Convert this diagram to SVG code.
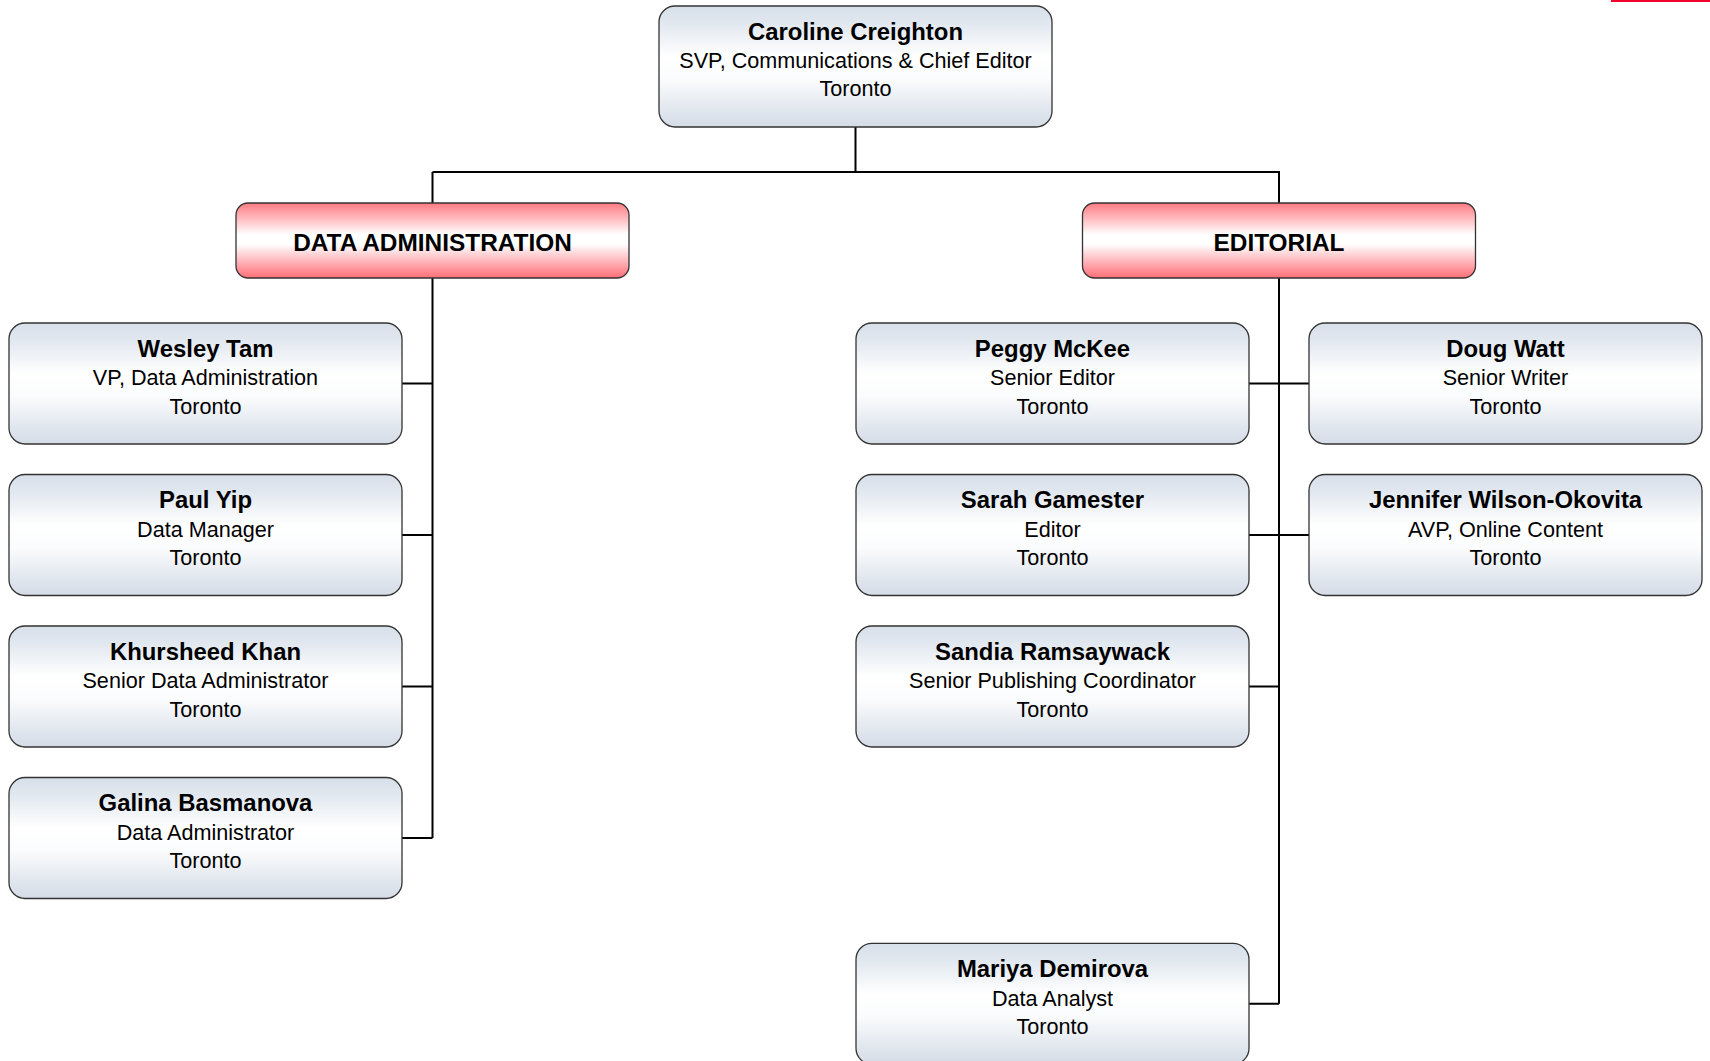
<svg xmlns="http://www.w3.org/2000/svg" width="1710" height="1061" viewBox="0 0 1710 1061">
<style>
.box{stroke:#333;stroke-width:1.3;fill:url(#gBlue)}
.dept{stroke:#333;stroke-width:1.3;fill:url(#gRed)}
.conn{stroke:#000;stroke-width:2;fill:none}
text{font-family:"Liberation Sans",Arial,sans-serif;fill:#000;text-anchor:middle}
.n{font-weight:bold;font-size:23.9px}
.d{font-weight:bold;font-size:24.4px}
.t{font-size:21.6px}
</style>
<defs>
<linearGradient id="gBlue" x1="0" y1="0" x2="0" y2="1">
<stop offset="0" stop-color="#d7dfe9"/>
<stop offset="0.12" stop-color="#dfe6ee"/>
<stop offset="0.42" stop-color="#ffffff"/>
<stop offset="0.6" stop-color="#fbfcfd"/>
<stop offset="0.88" stop-color="#dfe5ed"/>
<stop offset="1" stop-color="#d5dce6"/>
</linearGradient>
<linearGradient id="gRed" x1="0" y1="0" x2="0" y2="1">
<stop offset="0" stop-color="#ff7a82"/>
<stop offset="0.42" stop-color="#ffffff"/>
<stop offset="0.55" stop-color="#ffffff"/>
<stop offset="1" stop-color="#ff6e77"/>
</linearGradient>
</defs>
<rect width="1710" height="1061" fill="#fff"/>
<rect x="1611" y="0" width="99" height="2" fill="#f3002b"/>
<g id="connectors">
<path class="conn" d="M855.5 127V172M432.5 172H1279V203M432.5 172V203"/>
<path class="conn" d="M432.5 278V838M402 383.5H432.5M402 535H432.5M402 686.5H432.5M402 838H432.5"/>
<path class="conn" d="M1279 278V1003.8M1249 383.5H1309M1249 535H1309M1249 686.5H1279M1249 1003.8H1279"/>
</g>
<g id="caroline"><rect class="box" x="659" y="6" width="393" height="121" rx="16"/>
<text class="n" x="855.5" y="39.5">Caroline Creighton</text>
<text class="t" x="855.5" y="68">SVP, Communications &amp; Chief Editor</text>
<text class="t" x="855.5" y="96.3">Toronto</text></g>
<g id="dataadmin"><rect class="dept" x="236" y="203" width="393" height="75" rx="12"/>
<text class="d" x="432.5" y="250.7">DATA ADMINISTRATION</text></g>
<g id="editorial"><rect class="dept" x="1082.5" y="203" width="393" height="75" rx="12"/>
<text class="d" x="1279" y="250.7">EDITORIAL</text></g>
<g id="wesley"><rect class="box" x="9" y="323" width="393" height="121" rx="16"/>
<text class="n" x="205.5" y="356.8">Wesley Tam</text>
<text class="t" x="205.5" y="385.3">VP, Data Administration</text>
<text class="t" x="205.5" y="413.6">Toronto</text></g>
<g id="paul"><rect class="box" x="9" y="474.5" width="393" height="121" rx="16"/>
<text class="n" x="205.5" y="508.3">Paul Yip</text>
<text class="t" x="205.5" y="536.8">Data Manager</text>
<text class="t" x="205.5" y="565.1">Toronto</text></g>
<g id="khursheed"><rect class="box" x="9" y="626" width="393" height="121" rx="16"/>
<text class="n" x="205.5" y="659.8">Khursheed Khan</text>
<text class="t" x="205.5" y="688.3">Senior Data Administrator</text>
<text class="t" x="205.5" y="716.6">Toronto</text></g>
<g id="galina"><rect class="box" x="9" y="777.5" width="393" height="121" rx="16"/>
<text class="n" x="205.5" y="811.3">Galina Basmanova</text>
<text class="t" x="205.5" y="839.8">Data Administrator</text>
<text class="t" x="205.5" y="868.1">Toronto</text></g>
<g id="peggy"><rect class="box" x="856" y="323" width="393" height="121" rx="16"/>
<text class="n" x="1052.5" y="356.8">Peggy McKee</text>
<text class="t" x="1052.5" y="385.3">Senior Editor</text>
<text class="t" x="1052.5" y="413.6">Toronto</text></g>
<g id="doug"><rect class="box" x="1309" y="323" width="393" height="121" rx="16"/>
<text class="n" x="1505.5" y="356.8">Doug Watt</text>
<text class="t" x="1505.5" y="385.3">Senior Writer</text>
<text class="t" x="1505.5" y="413.6">Toronto</text></g>
<g id="sarah"><rect class="box" x="856" y="474.5" width="393" height="121" rx="16"/>
<text class="n" x="1052.5" y="508.3">Sarah Gamester</text>
<text class="t" x="1052.5" y="536.8">Editor</text>
<text class="t" x="1052.5" y="565.1">Toronto</text></g>
<g id="jennifer"><rect class="box" x="1309" y="474.5" width="393" height="121" rx="16"/>
<text class="n" x="1505.5" y="508.3">Jennifer Wilson-Okovita</text>
<text class="t" x="1505.5" y="536.8">AVP, Online Content</text>
<text class="t" x="1505.5" y="565.1">Toronto</text></g>
<g id="sandia"><rect class="box" x="856" y="626" width="393" height="121" rx="16"/>
<text class="n" x="1052.5" y="659.8">Sandia Ramsaywack</text>
<text class="t" x="1052.5" y="688.3">Senior Publishing Coordinator</text>
<text class="t" x="1052.5" y="716.6">Toronto</text></g>
<g id="mariya"><rect class="box" x="856" y="943.3" width="393" height="121" rx="16"/>
<text class="n" x="1052.5" y="977.1">Mariya Demirova</text>
<text class="t" x="1052.5" y="1005.6">Data Analyst</text>
<text class="t" x="1052.5" y="1033.9">Toronto</text></g>
</svg>
